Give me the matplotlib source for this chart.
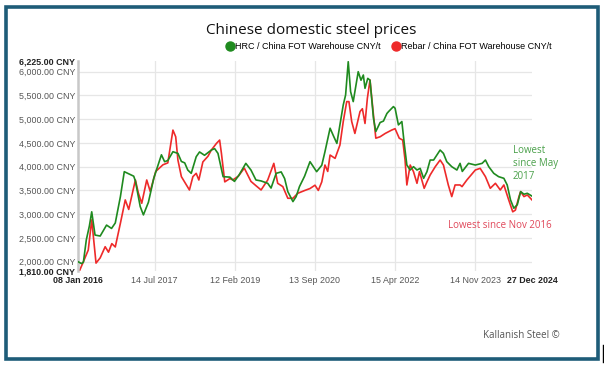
import numpy as np
import matplotlib.pyplot as plt
import matplotlib.dates as mdates
from matplotlib.lines import Line2D
from matplotlib.patches import Rectangle

# HRC / China FOT Warehouse CNY/t
hrc_dates = [
    '2016-01-08', '2016-02-02', '2016-02-16', '2016-03-08', '2016-03-30', '2016-04-16',
    '2016-05-10', '2016-06-16', '2016-08-01', '2016-09-06', '2016-10-03', '2016-11-09',
    '2016-12-07', '2017-01-08', '2017-02-13', '2017-02-25', '2017-04-01', '2017-04-24',
    '2017-05-30', '2017-07-08', '2017-09-01', '2017-09-24', '2017-10-17', '2017-11-23',
    '2017-12-29', '2018-01-23', '2018-02-16', '2018-03-10', '2018-04-04', '2018-05-10',
    '2018-06-03', '2018-07-09', '2018-08-27', '2018-09-20', '2018-10-14', '2018-11-20',
    '2019-01-08', '2019-02-10', '2019-03-16', '2019-05-03', '2019-06-09', '2019-07-15',
    '2019-08-21', '2019-10-08', '2019-11-01', '2019-12-08', '2020-01-13', '2020-02-07',
    '2020-03-01', '2020-04-07', '2020-04-30', '2020-05-24', '2020-06-30', '2020-08-08',
    '2020-09-01', '2020-09-25', '2020-11-01', '2020-11-24', '2020-12-31', '2021-01-24',
    '2021-02-18', '2021-03-12', '2021-04-05', '2021-04-22', '2021-05-11', '2021-05-28',
    '2021-06-16', '2021-07-22', '2021-08-11', '2021-08-28', '2021-09-09', '2021-09-29',
    '2021-10-15', '2021-11-09', '2021-11-26', '2021-12-27', '2022-01-20', '2022-02-14',
    '2022-02-26', '2022-04-02', '2022-04-14', '2022-05-08', '2022-06-02', '2022-06-19',
    '2022-07-08', '2022-08-01', '2022-08-25', '2022-09-19', '2022-10-12', '2022-11-06',
    '2022-11-30', '2022-12-23', '2023-01-17', '2023-03-05', '2023-03-29', '2023-04-22',
    '2023-05-28', '2023-07-04', '2023-07-27', '2023-08-12', '2023-09-26', '2023-11-14',
    '2024-01-02', '2024-01-26', '2024-02-19', '2024-03-26', '2024-04-30', '2024-06-07',
    '2024-07-01', '2024-07-25', '2024-08-18', '2024-09-12', '2024-10-06', '2024-10-30',
    '2024-11-23', '2024-12-27',
]
hrc_values = [
    2000, 1960, 1990, 2460, 2750, 3050,
    2560, 2540, 2770, 2700, 2815, 3370,
    3895, 3850, 3800, 3700, 3160, 2985,
    3250, 3760, 4250, 4105, 4130, 4315,
    4280, 4110, 4080, 3930, 3860, 4210,
    4310, 4240, 4350, 4380, 4280, 3790,
    3780, 3690, 3830, 4070, 3930, 3720,
    3700, 3650, 3550, 3860, 3890, 3750,
    3475, 3265, 3370, 3580, 3800, 4105,
    4000, 3895, 4030, 4315, 4810, 4650,
    4490, 4880, 5300, 5510, 6210, 5580,
    5370, 6000, 5820, 5930, 5650, 5860,
    5820, 5020, 4740, 4930, 4960, 5120,
    5160, 5265, 5230, 4880, 4950, 4490,
    4035, 3930, 4000, 3930, 3965, 3755,
    3895, 4140, 4140, 4350, 4280, 4105,
    4000, 3930, 4070, 3900, 4070, 4035,
    4070, 4140, 4000, 3860, 3790, 3755,
    3615, 3300, 3125, 3200, 3475, 3420,
    3440, 3380,
]

# Rebar / China FOT Warehouse CNY/t
rebar_dates = [
    '2016-01-08', '2016-01-19', '2016-02-16', '2016-03-22', '2016-04-16', '2016-05-17',
    '2016-06-16', '2016-07-22', '2016-08-15', '2016-09-08', '2016-10-03', '2016-11-09',
    '2016-12-14', '2017-01-08', '2017-02-25', '2017-03-19', '2017-04-12', '2017-05-18',
    '2017-06-12', '2017-07-22', '2017-09-12', '2017-10-17', '2017-11-23', '2017-12-13',
    '2017-12-29', '2018-01-23', '2018-03-22', '2018-04-16', '2018-05-10', '2018-05-29',
    '2018-06-27', '2018-08-03', '2018-08-27', '2018-10-03', '2018-10-26', '2018-11-08',
    '2018-12-02', '2019-01-08', '2019-01-29', '2019-03-10', '2019-04-22', '2019-06-09',
    '2019-07-15', '2019-08-21', '2019-10-08', '2019-11-21', '2019-12-19', '2020-01-25',
    '2020-03-01', '2020-04-07', '2020-05-12', '2020-07-02', '2020-08-08', '2020-09-13',
    '2020-10-07', '2020-11-01', '2020-11-24', '2020-12-14', '2020-12-31', '2021-02-05',
    '2021-03-12', '2021-04-05', '2021-04-30', '2021-05-16', '2021-06-05', '2021-06-28',
    '2021-08-04', '2021-08-21', '2021-09-09', '2021-09-26', '2021-10-15', '2021-11-09',
    '2021-11-26', '2021-12-27', '2022-02-02', '2022-03-20', '2022-04-14', '2022-05-14',
    '2022-06-08', '2022-06-25', '2022-07-08', '2022-08-01', '2022-08-25', '2022-09-19',
    '2022-10-07', '2022-10-24', '2022-11-10', '2022-11-30', '2022-12-23', '2023-01-29',
    '2023-03-05', '2023-03-29', '2023-05-03', '2023-05-28', '2023-06-21', '2023-07-27',
    '2023-08-10', '2023-09-14', '2023-11-14', '2023-12-19', '2024-01-26', '2024-03-01',
    '2024-04-07', '2024-05-12', '2024-06-07', '2024-07-12', '2024-08-10', '2024-08-29',
    '2024-09-24', '2024-10-06', '2024-10-30', '2024-11-23', '2024-12-27',
]
rebar_values = [
    1850, 1810, 2000, 2245, 2880, 1970,
    2080, 2315, 2200, 2380, 2310, 2810,
    3300, 3100, 3720, 3440, 3230, 3720,
    3480, 3900, 4040, 4080, 4770, 4630,
    4140, 3790, 3510, 3790, 3860, 3720,
    4100, 4220, 4350, 4490, 4560, 4280,
    3680, 3750, 3720, 3800, 3970, 3690,
    3600, 3510, 3720, 4070, 3650, 3580,
    3335, 3335, 3440, 3500, 3540, 3610,
    3500, 3680, 4035, 3900, 4245, 4175,
    4455, 4950, 5370, 5370, 4950, 4700,
    5160, 5220, 4910, 5440, 5825, 5090,
    4600, 4630, 4700, 4770, 4800, 4600,
    4560, 4140, 3615, 4035, 3895, 3650,
    3895, 3720, 3545, 3680, 3825, 4000,
    4140, 4035, 3615, 3370, 3615, 3615,
    3580, 3720, 3930, 3965, 3790, 3545,
    3650, 3510, 3615, 3300, 3050, 3085,
    3370, 3475, 3370, 3405, 3300,
]

xtick_dates = ['2016-01-08', '2017-07-14', '2019-02-12', '2020-09-13',
               '2022-04-15', '2023-11-14', '2024-12-27']
xtick_labels = ['08 Jan 2016', '14 Jul 2017', '12 Feb 2019', '13 Sep 2020',
                '15 Apr 2022', '14 Nov 2023', '27 Dec 2024']
ytick_values = [1810, 2000, 2500, 3000, 3500, 4000, 4500, 5000, 5500, 6000, 6225]
ygrid_values = [2000, 2500, 3000, 3500, 4000, 4500, 5000, 5500, 6000]

hrc_x = mdates.datestr2num(hrc_dates)
rebar_x = mdates.datestr2num(rebar_dates)
tick_x = mdates.datestr2num(xtick_dates)

green = '#1f8a1f'
red = '#ee2a2a'

fig = plt.figure(figsize=(6.04, 3.67), dpi=100)
fig.patch.set_facecolor('white')

# dark frame around the picture
fig.patches.append(Rectangle((6 / 604, 1 - 359 / 367), 592 / 604, 352 / 367,
                             transform=fig.transFigure, fill=False,
                             edgecolor='#1e5c78', linewidth=2.6))
fig.add_artist(Line2D([603 / 604, 603 / 604], [1 - 345 / 367, 1 - 362 / 367],
                      transform=fig.transFigure, color='black', linewidth=1))

ax = fig.add_axes([78 / 604, 1 - 270.7 / 367, 454 / 604, (270.7 - 61) / 367])
ax.set_xlim(tick_x[0], tick_x[-1])
ax.set_ylim(1810, 6225)

for v in ygrid_values:
    ax.axhline(v, color='#e6e6e6', linewidth=0.9, zorder=0)
for t in tick_x[1:-1]:
    ax.axvline(t, color='#e6e6e6', linewidth=0.9, zorder=0)

ax.plot(hrc_x, hrc_values, color=green, linewidth=1.2, zorder=3)
ax.plot(rebar_x, rebar_values, color=red, linewidth=1.2, zorder=2)

for s in ['top', 'right', 'bottom']:
    ax.spines[s].set_visible(False)
ax.spines['left'].set_color('#c8c8c8')
ax.spines['left'].set_linewidth(1.8)

ax.set_yticks(ytick_values)
ax.set_yticklabels([f'{v:,.2f} CNY' for v in ytick_values],
                   fontfamily='Liberation Sans', fontsize=6.4, color='#555555')
ax.set_xticks(tick_x)
ax.set_xticklabels(xtick_labels, fontfamily='Liberation Sans', fontsize=6.4,
                   color='#555555')
ax.tick_params(length=0, pad=2)
ax.tick_params(axis='x', pad=4)
for lab in [ax.get_yticklabels()[0], ax.get_yticklabels()[-1],
            ax.get_xticklabels()[0], ax.get_xticklabels()[-1]]:
    lab.set_fontweight('bold')
    lab.set_color('#222222')

fig.text(0.515, 0.918, 'Chinese domestic steel prices', ha='center', va='center',
         fontfamily='Open Sans', fontsize=11, color='#111111')

handles = [Line2D([], [], marker='o', linestyle='none', color=green, markersize=6.5),
           Line2D([], [], marker='o', linestyle='none', color=red, markersize=6.5)]
fig.legend(handles, ['HRC / China FOT Warehouse CNY/t',
                     'Rebar / China FOT Warehouse CNY/t'],
           loc='center', bbox_to_anchor=(0.643, 0.872), ncol=2, frameon=False,
           prop={'family': 'Liberation Sans', 'size': 6.5},
           handletextpad=0.05, columnspacing=1.2, handlelength=1.0)

fig.text(513 / 604, 1 - 164 / 367, 'Lowest\nsince May\n2017', ha='left', va='center',
         fontfamily='Open Sans', fontsize=7, color='#4aa04a', linespacing=1.25)
fig.text(500 / 604, 1 - 226 / 367, 'Lowest since Nov 2016', ha='center', va='center',
         fontfamily='Open Sans', fontsize=7, color='#e0485a')
fig.text(521 / 604, 1 - 336 / 367, 'Kallanish Steel \u00a9', ha='center', va='center',
         fontfamily='Open Sans', fontsize=7, color='#555555')

fig.savefig('out.png', dpi=100)
